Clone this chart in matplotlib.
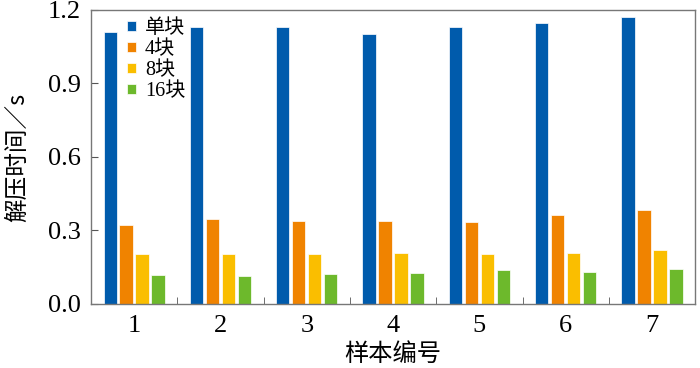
import numpy as np
import matplotlib.pyplot as plt
from matplotlib.ticker import MultipleLocator, FixedLocator

plt.rcParams['font.family'] = ['Liberation Serif', 'Noto Sans CJK SC']

samples = ['1', '2', '3', '4', '5', '6', '7']
series_names = ['单块', '4块', '8块', '16块']
single = [1.11, 1.13, 1.13, 1.10, 1.13, 1.145, 1.17]
blocks4 = [0.324, 0.347, 0.340, 0.340, 0.336, 0.365, 0.382]
blocks8 = [0.202, 0.202, 0.202, 0.209, 0.202, 0.210, 0.220]
blocks16 = [0.117, 0.114, 0.123, 0.125, 0.137, 0.129, 0.141]
colors = ['#005BAC', '#F08300', '#FABE00', '#6DB92C']

fig = plt.figure(figsize=(7, 3.68), dpi=100)
ax = fig.add_axes([0.13, 0.174, 0.863, 0.799])

x = np.arange(1, len(samples) + 1)
step = 0.185
width = 0.155
for i, (vals, name, c) in enumerate(zip([single, blocks4, blocks8, blocks16], series_names, colors)):
    ax.bar(x + (i - 1.5) * step, vals, width, color=c, edgecolor='white',
           linewidth=0.5, label=name)

ax.set_xlim(0.5, 7.5)
ax.set_ylim(0, 1.2)
ax.yaxis.set_major_locator(MultipleLocator(0.3))
ax.yaxis.set_major_formatter(plt.FormatStrFormatter('%.1f'))
ax.set_xticks(x)
ax.set_xticklabels(samples)
ax.xaxis.set_minor_locator(FixedLocator(np.arange(1.5, 7.5, 1)))
ax.tick_params(axis='x', which='major', length=0, labelsize=19, pad=8, colors='black')
ax.tick_params(axis='x', which='minor', direction='in', length=5, color='#555555')
ax.tick_params(axis='y', direction='in', length=5, labelsize=19, pad=7, color='#555555')
for s in ax.spines.values():
    s.set_color('#777777')
    s.set_linewidth(1.0)

ax.set_xlabel('样本编号', fontsize=17.5, family=['Noto Sans CJK SC'], labelpad=3)
ax.set_ylabel('解压时间／s', fontsize=17, family=['Noto Sans CJK SC'], labelpad=14)

leg = ax.legend(loc='upper left', bbox_to_anchor=(0.03, 1.03), frameon=False,
                handlelength=0.42, handleheight=0.42,
                handletextpad=0.45, labelspacing=0.1,
                prop={'family': ['Liberation Serif', 'Noto Sans CJK SC'], 'size': 14.5})

fig.savefig('out.png', dpi=100)
